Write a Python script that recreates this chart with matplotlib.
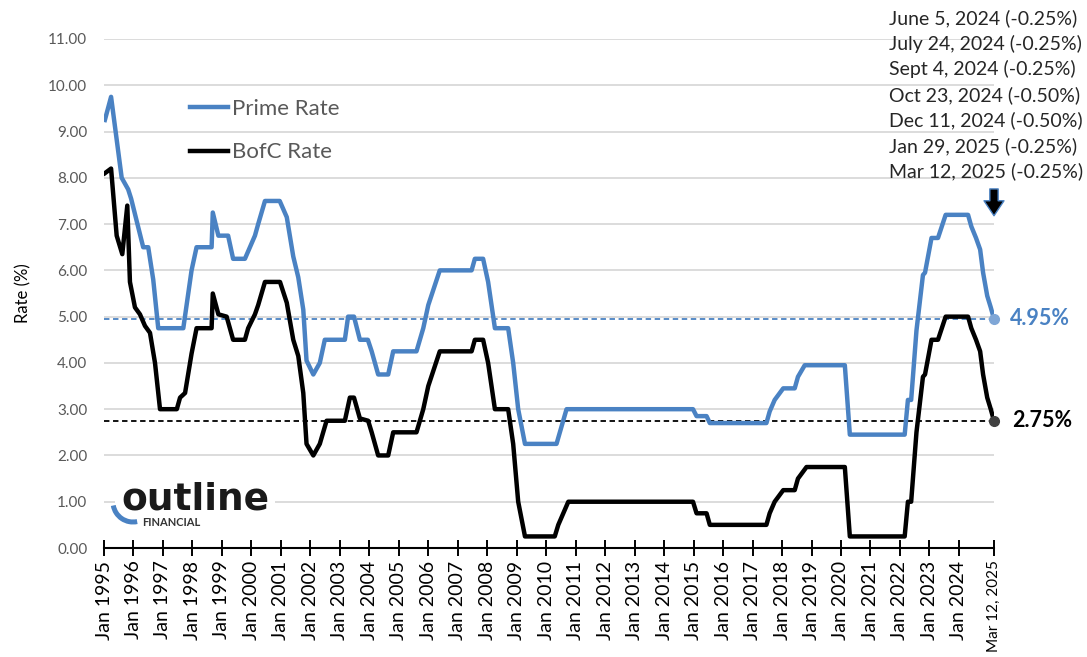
import matplotlib.pyplot as plt
from matplotlib.patches import Arc

plt.rcParams['font.family'] = ['Lato', 'DejaVu Sans']

# Prime rate (decimal year, %)
prime_t = [1995.03, 1995.24, 1995.60, 1995.82, 1995.92, 1996.33, 1996.50, 1996.67, 1996.84,
           1997.69, 1997.97, 1998.14, 1998.65, 1998.69, 1998.88, 1999.21, 1999.38, 1999.78,
           1999.95, 2000.12, 2000.23, 2000.46, 2000.96, 2001.20, 2001.42, 2001.59, 2001.76,
           2001.87, 2002.10, 2002.32, 2002.49, 2003.17, 2003.28, 2003.48, 2003.68, 2003.95,
           2004.08, 2004.30, 2004.64, 2004.81, 2005.60, 2005.83, 2006.00, 2006.39, 2007.47,
           2007.58, 2007.86, 2008.03, 2008.26, 2008.71, 2008.88, 2009.05, 2009.28, 2010.35,
           2010.69, 2014.98, 2015.10, 2015.44, 2015.55, 2017.47, 2017.58, 2017.75, 2018.04,
           2018.43, 2018.54, 2018.77, 2020.13, 2020.30, 2022.16, 2022.27, 2022.38, 2022.56,
           2022.78, 2022.85, 2023.07, 2023.29, 2023.55, 2024.31, 2024.42, 2024.58, 2024.72,
           2024.82, 2024.96, 2025.08, 2025.19]
prime_v = [9.25, 9.75, 8.00, 7.75, 7.55, 6.50, 6.50, 5.80, 4.75,
           4.75, 6.00, 6.50, 6.50, 7.25, 6.75, 6.75, 6.25, 6.25,
           6.50, 6.75, 7.00, 7.50, 7.50, 7.15, 6.30, 5.85, 5.15,
           4.05, 3.75, 4.00, 4.50, 4.50, 5.00, 5.00, 4.50, 4.50,
           4.25, 3.75, 3.75, 4.25, 4.25, 4.75, 5.25, 6.00, 6.00,
           6.25, 6.25, 5.75, 4.75, 4.75, 4.00, 3.00, 2.25, 2.25,
           3.00, 3.00, 2.85, 2.85, 2.70, 2.70, 2.95, 3.20, 3.45,
           3.45, 3.70, 3.95, 3.95, 2.45, 2.45, 3.20, 3.20, 4.70,
           5.90, 5.95, 6.70, 6.70, 7.20, 7.20, 6.95, 6.70, 6.45,
           5.95, 5.45, 5.20, 4.95]

# Bank of Canada rate (decimal year, %)
bofc_t = [1995.03, 1995.24, 1995.43, 1995.62, 1995.79, 1995.88, 1996.05, 1996.22, 1996.39,
          1996.56, 1996.73, 1996.90, 1997.47, 1997.58, 1997.75, 1997.97, 1998.14, 1998.65,
          1998.69, 1998.88, 1999.16, 1999.38, 1999.78, 1999.89, 2000.12, 2000.23, 2000.46,
          2000.97, 2001.20, 2001.42, 2001.59, 2001.76, 2001.87, 2002.10, 2002.32, 2002.55,
          2003.17, 2003.34, 2003.48, 2003.68, 2003.96, 2004.08, 2004.30, 2004.64, 2004.81,
          2005.60, 2005.83, 2006.00, 2006.39, 2007.47, 2007.58, 2007.86, 2008.03, 2008.26,
          2008.71, 2008.88, 2009.05, 2009.28, 2010.29, 2010.41, 2010.58, 2010.75, 2014.98,
          2015.10, 2015.44, 2015.55, 2017.47, 2017.58, 2017.75, 2018.04, 2018.43, 2018.54,
          2018.83, 2020.13, 2020.30, 2022.16, 2022.27, 2022.38, 2022.56, 2022.78, 2022.85,
          2023.07, 2023.29, 2023.55, 2024.31, 2024.42, 2024.58, 2024.72, 2024.82, 2024.96,
          2025.08, 2025.19]
bofc_v = [8.10, 8.20, 6.75, 6.35, 7.40, 5.75, 5.20, 5.05, 4.80,
          4.65, 4.00, 3.00, 3.00, 3.25, 3.35, 4.20, 4.75, 4.75,
          5.50, 5.05, 5.00, 4.50, 4.50, 4.75, 5.05, 5.25, 5.75,
          5.75, 5.30, 4.50, 4.15, 3.35, 2.25, 2.00, 2.25, 2.75,
          2.75, 3.25, 3.25, 2.80, 2.75, 2.50, 2.00, 2.00, 2.50,
          2.50, 3.00, 3.50, 4.25, 4.25, 4.50, 4.50, 4.00, 3.00,
          3.00, 2.25, 1.00, 0.25, 0.25, 0.50, 0.75, 1.00, 1.00,
          0.75, 0.75, 0.50, 0.50, 0.75, 1.00, 1.25, 1.25, 1.50,
          1.75, 1.75, 0.25, 0.25, 1.00, 1.00, 2.50, 3.70, 3.75,
          4.50, 4.50, 5.00, 5.00, 4.75, 4.50, 4.25, 3.75, 3.25,
          3.00, 2.75]

tick_years = list(range(1995, 2025))
last_label = 'Mar 12, 2025'

cut_notes = ['June 5, 2024 (-0.25%)', 'July 24, 2024 (-0.25%)', 'Sept 4, 2024 (-0.25%)',
             'Oct 23, 2024 (-0.50%)', 'Dec 11, 2024 (-0.50%)', 'Jan 29, 2025 (-0.25%)',
             'Mar 12, 2025 (-0.25%)']

BLUE = '#4A82C3'
GRAY = '#595959'
W, H = 1087, 657


def fx(px):
    return px / W


def fy(py):
    return 1 - py / H


fig = plt.figure(figsize=(W / 100, H / 100), dpi=100)
ax = fig.add_axes([fx(104), fy(548), fx(994) - fx(104), fy(39) - fy(548)])

ax.plot(prime_t, prime_v, color=BLUE, lw=3.2, label='Prime Rate', zorder=4)
ax.plot(bofc_t, bofc_v, color='black', lw=3.2, label='BofC Rate', zorder=4)

# current level reference lines
ax.axhline(prime_v[-1], color=BLUE, lw=1.3, ls=(0, (3, 2)), zorder=3)
ax.axhline(bofc_v[-1], color='black', lw=1.3, ls=(0, (3, 2)), zorder=3)
ax.plot(prime_t[-1], prime_v[-1], 'o', ms=7, color='#7FA6D6', zorder=5, clip_on=False)
ax.plot(bofc_t[-1], bofc_v[-1], 'o', ms=7, color='#404040', zorder=5, clip_on=False)
ax.annotate(f'{prime_v[-1]:.2f}%', xy=(prime_t[-1], prime_v[-1]), xytext=(16, 0),
            textcoords='offset pixels', va='center', ha='left', fontsize=15.5,
            fontweight='bold', color=BLUE, annotation_clip=False)
ax.annotate(f'{bofc_v[-1]:.2f}%', xy=(bofc_t[-1], bofc_v[-1]), xytext=(18, 0),
            textcoords='offset pixels', va='center', ha='left', fontsize=15.5,
            fontweight='bold', color='black', annotation_clip=False)

# down arrow under the list of cuts
ax.annotate('', xy=(prime_t[-1], 7.12), xytext=(prime_t[-1], 7.82),
            arrowprops=dict(arrowstyle='simple,head_length=0.45,head_width=0.6,tail_width=0.25',
                            fc='black', ec=BLUE, lw=1.0, mutation_scale=24),
            annotation_clip=False)

ax.set_xlim(1995, prime_t[-1])
ax.set_ylim(0, 11)
ax.set_yticks(range(0, 12))
ax.set_yticklabels([f'{v:.2f}' for v in range(0, 12)])
ax.set_xticks(tick_years + [prime_t[-1]])
ax.set_xticklabels([f'Jan {y}' for y in tick_years] + [last_label], rotation=90)

ax.yaxis.grid(True, color='#D9D9D9', lw=1.3)
ax.set_axisbelow(True)
for side in ['top', 'right', 'left']:
    ax.spines[side].set_visible(False)
ax.spines['bottom'].set_linewidth(1.5)
ax.tick_params(axis='y', length=0, pad=12, labelsize=11, labelcolor=GRAY)
ax.tick_params(axis='x', direction='inout', length=12, width=1.4, pad=3, labelsize=14)
ax.get_xticklabels()[-1].set_fontsize(11)
ax.set_ylabel('Rate (%)', fontsize=12, labelpad=12)

ax.legend(loc='upper left', bbox_to_anchor=(fx(190), fy(99)), bbox_transform=fig.transFigure,
          frameon=False, fontsize=16, handlelength=1.7, handletextpad=0.2, labelspacing=1.05,
          borderpad=0, borderaxespad=0, labelcolor=GRAY)

for i, note in enumerate(cut_notes):
    fig.text(fx(889), fy(18 + i * 25.6), note, fontsize=14, va='center', ha='left',
             color='#262626')

# logo
fig.text(fx(121), fy(500), 'outline', fontsize=27, fontweight='bold', va='center', ha='left',
         family='DejaVu Sans', color='#1A1A1A', bbox=dict(fc='white', ec='none', pad=4),
         zorder=4)
fig.text(fx(142), fy(522), 'FINANCIAL', fontsize=8, fontweight='bold', va='center',
         ha='left', color='#333333', zorder=5)
fig.add_artist(Arc((1.33, (H - 502) / 100), 0.40, 0.40, theta1=190, theta2=282,
                   transform=fig.dpi_scale_trans, color=BLUE, lw=3.6, zorder=6))

fig.savefig('out.png', dpi=100)
